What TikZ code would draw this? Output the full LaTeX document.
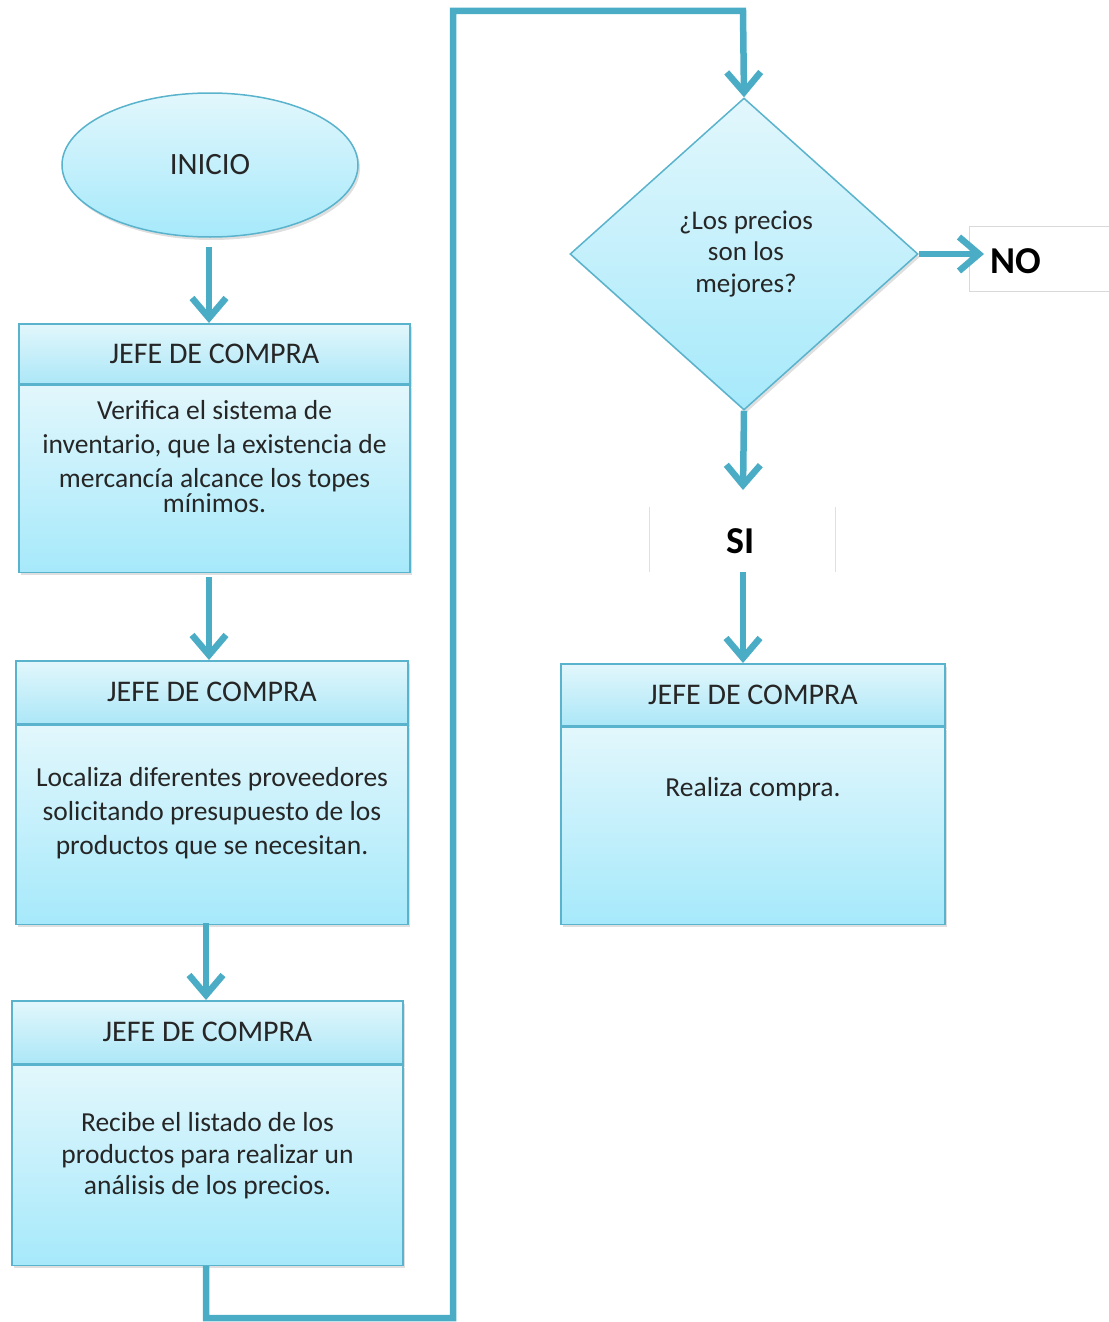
\documentclass[tikz,border=0pt]{standalone}
\usepackage{fontspec}
\setmainfont{Carlito}
\usetikzlibrary{arrows.meta,shapes.geometric,shadows,positioning}
\definecolor{flow}{HTML}{4BACC6}
\definecolor{edge}{HTML}{5AB3CC}
\definecolor{lighttop}{HTML}{E2F7FC}
\definecolor{lightbot}{HTML}{A6E9FB}
\definecolor{hdrbot}{HTML}{ACE7F7}
\tikzset{
  x=1pt, y=-1pt,
  conn/.style={draw=flow, line width=6.5pt, line join=miter,
    -{Straight Barb[length=20pt,width=34pt]}},
  boxshadow/.style={drop shadow={opacity=0.25, shadow xshift=2pt, shadow yshift=-3pt}},
  hdr/.style={rectangle, draw=edge, line width=1.5pt, top color=lighttop,
    bottom color=hdrbot, minimum height=60pt, inner sep=0pt, boxshadow},
  body/.style={rectangle, draw=edge, line width=1.5pt, top color=lighttop,
    bottom color=lightbot, inner sep=0pt, boxshadow},
  hdrtext/.style={font=\fontsize{30}{36}\selectfont, text=black!85},
  bodytext/.style={font=\fontsize{27.5}{34}\selectfont, align=center, text=black!85},
  startnode/.style={ellipse, draw=edge, line width=1.5pt, top color=lighttop,
    bottom color=lightbot, minimum width=296pt, minimum height=144pt, inner sep=0pt, boxshadow},
  decision/.style={diamond, draw=edge, line width=1.5pt, top color=lighttop,
    bottom color=lightbot, minimum width=348pt, minimum height=312pt, inner sep=0pt,
    aspect=1.115, boxshadow},
  answer/.style={font=\bfseries\fontsize{38}{44}\selectfont, text=black}
}
\begin{document}
\begin{tikzpicture}
\useasboundingbox (0,0) rectangle (1108,1322);

% start
\node[startnode] (inicio) at (210,165) {};
\node[hdrtext, font=\fontsize{31}{36}\selectfont] (inicioT) at (210,165) {INICIO};

% step 1
\node[hdr, minimum width=391pt, anchor=north] (h1) at (214.5,323) {};
\node[body, minimum width=391pt, minimum height=187pt, anchor=north] (b1) at (h1.south) {};
\node[hdrtext] (h1T) at (h1.center) {JEFE DE COMPRA};
\node[bodytext] (t1) at (214.5,457)
  {Verifica el sistema de\\ inventario, que la existencia de\\ mercancía alcance los topes\\[-9pt] mínimos.};

% step 2
\node[hdr, minimum width=392pt, minimum height=63pt, anchor=north] (h2) at (212,660) {};
\node[body, minimum width=392pt, minimum height=199pt, anchor=north] (b2) at (h2.south) {};
\node[hdrtext] (h2T) at (h2.center) {JEFE DE COMPRA};
\node[bodytext] (t2) at (212,813)
  {Localiza diferentes proveedores\\ solicitando presupuesto de los\\ productos que se necesitan.};

% step 3
\node[hdr, minimum width=391pt, minimum height=63pt, anchor=north] (h3) at (207.5,1000) {};
\node[body, minimum width=391pt, minimum height=200pt, anchor=north] (b3) at (h3.south) {};
\node[hdrtext] (h3T) at (h3.center) {JEFE DE COMPRA};
\node[bodytext, font=\fontsize{27.5}{31.5}\selectfont] (t3) at (207.5,1156)
  {Recibe el listado de los\\ productos para realizar un\\ análisis de los precios.};

% decision
\node[decision] (dec) at (744,254) {};
\node[bodytext, font=\fontsize{27}{31.5}\selectfont] (decT) at (746,254)
  {¿Los precios\\ son los\\ mejores?};

% answers
\node[draw=black!15, line width=1pt, minimum width=145pt, minimum height=65pt,
  anchor=west, inner sep=0pt] (no) at (969,258.5) {};
\node[answer, anchor=west] (noT) at (987,261) {NO};
\node[minimum width=185pt, minimum height=65pt, inner sep=0pt] (si) at (742.5,539.5) {};
\draw[black!12, line width=1pt] (si.north west) -- (si.south west)
  (si.north east) -- (si.south east);
\node[answer] (siT) at (741,541) {SI};

% step 4
\node[hdr, minimum width=384pt, minimum height=62pt, anchor=north] (h4) at (753,663) {};
\node[body, minimum width=384pt, minimum height=197pt, anchor=north] (b4) at (h4.south) {};
\node[hdrtext] (h4T) at (h4.center) {JEFE DE COMPRA};
\node[bodytext] (t4) at (753,789) {Realiza compra.};

% connectors
\coordinate (a1) at (209,247);
\coordinate (a2) at (209,577);
\coordinate (a3) at (206,923);
\draw[conn] (a1) -- (a1 |- h1.north);
\draw[conn] (a2) -- (a2 |- h2.north);
\draw[conn] (a3) -- (a3 |- h3.north);
\coordinate (c1) at (206,1318);
\coordinate (c2) at (453,1318);
\coordinate (c3) at (453,11);
\coordinate (c4) at (743,11);
\draw[conn] (b3.south -| c1) -- (c1) -- (c2) -- (c3) -- (c4) -- (dec.north);
\coordinate (noend) at (984,0);
\draw[conn] (dec.east) -- (dec.east -| noend);
\coordinate (siend) at (743,490);
\coordinate (sistart) at (743,572);
\draw[conn] (dec.south) -- (siend);
\draw[conn] (sistart) -- (sistart |- h4.north);
\end{tikzpicture}
\end{document}
